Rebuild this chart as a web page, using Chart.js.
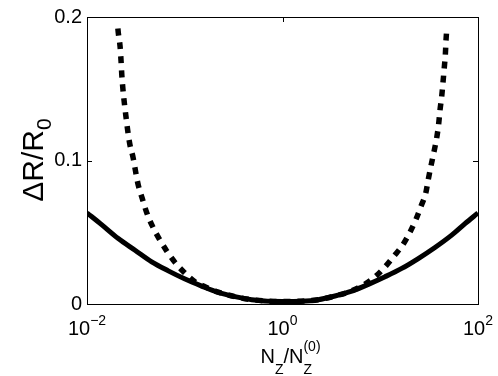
<!DOCTYPE html>
<html>
<head>
<meta charset="utf-8">
<script src="https://cdn.jsdelivr.net/npm/chart.js@4/dist/chart.umd.min.js"></script>
<style>
  html, body { margin: 0; padding: 0; background: #fff; }
  canvas { display: block; }
</style>
</head>
<body>
<canvas id="c" width="498" height="376"></canvas>
<script>
// ---- data ----
const solidN = [0.01, 0.0141, 0.0209, 0.031, 0.0459, 0.0679, 0.1007, 0.149, 0.22, 0.327, 0.484, 1.0, 1.57, 2.32, 3.44, 5.11, 7.55, 11.2, 16.6, 24.5, 36.3, 53.8, 73.6, 100];
const solidR = [0.0635, 0.0553, 0.0456, 0.0375, 0.0294, 0.0231, 0.0174, 0.0125, 0.0081, 0.0051, 0.003, 0.0017, 0.0019, 0.003, 0.0056, 0.009, 0.0137, 0.019, 0.0248, 0.0317, 0.0394, 0.048, 0.056, 0.0635];

const dashN = [0.0207, 0.0209, 0.0218, 0.0223, 0.0227, 0.0233, 0.0241, 0.0251, 0.0261, 0.0275, 0.0296, 0.0315, 0.0335, 0.0368, 0.0408, 0.0466, 0.0546, 0.0653, 0.0794, 0.0989, 0.127, 0.161, 0.22, 0.327, 0.484, 1.0, 2.32, 3.44, 5.11, 6.98, 8.83, 11.2, 13.9, 17.0, 20.2, 23.2, 26.1, 29.2, 31.0, 33.1, 35.5, 37.8, 39.6, 40.9, 42.6, 43.9, 45.2, 46.4, 47.1, 47.9];
const dashR = [0.192, 0.189, 0.1794, 0.1694, 0.1597, 0.1498, 0.1401, 0.130, 0.1208, 0.1109, 0.1021, 0.0919, 0.0826, 0.0734, 0.0637, 0.0544, 0.0456, 0.0370, 0.0290, 0.0220, 0.0155, 0.0120, 0.0083, 0.0051, 0.003, 0.0017, 0.003, 0.0056, 0.0092, 0.0139, 0.0189, 0.0259, 0.0336, 0.0412, 0.0502, 0.0590, 0.0681, 0.0773, 0.0868, 0.0965, 0.1063, 0.1158, 0.1255, 0.1354, 0.1451, 0.1549, 0.1648, 0.1745, 0.184, 0.1915];

const xTickValues = [0.01, 1, 100];
const xTickExponents = ['\u22122', '0', '2'];
const yTickValues = [0, 0.1, 0.2];
const yTickLabels = ['0', '0.1', '0.2'];
const xTitleParts = { main1: 'N', sub1: 'Z', slash: '/', main2: 'N', sub2: 'Z', sup2: '(0)' };
const yTitleParts = { main: '\u0394R/R', sub: '0' };

const FONT = '"Liberation Sans", Arial, Helvetica, sans-serif';

function toXY(xs, ys) { return xs.map((x, i) => ({ x: x, y: ys[i] })); }

const decorPlugin = {
  id: 'decor',
  afterDraw(chart) {
    const ctx = chart.ctx;
    const a = chart.chartArea;
    const xs = chart.scales.x, ys = chart.scales.y;
    ctx.save();
    // frame top & right
    ctx.strokeStyle = '#000';
    ctx.lineWidth = 1;
    ctx.beginPath();
    ctx.moveTo(a.left, a.top + 0.5); ctx.lineTo(a.right + 0.5, a.top + 0.5);
    ctx.moveTo(a.right + 0.5, a.top); ctx.lineTo(a.right + 0.5, a.bottom);
    ctx.stroke();
    // inward ticks
    ctx.beginPath();
    yTickValues.forEach(v => {
      const py = Math.round(ys.getPixelForValue(v)) + 0.5;
      ctx.moveTo(a.left, py); ctx.lineTo(a.left + 5, py);
      ctx.moveTo(a.right, py); ctx.lineTo(a.right - 5, py);
    });
    xTickValues.forEach(v => {
      const px = Math.round(xs.getPixelForValue(v)) + 0.5;
      ctx.moveTo(px, a.bottom); ctx.lineTo(px, a.bottom - 5);
      ctx.moveTo(px, a.top); ctx.lineTo(px, a.top + 5);
    });
    ctx.stroke();

    ctx.fillStyle = '#000';
    ctx.textBaseline = 'alphabetic';
    ctx.textAlign = 'left';
    // x tick labels 10^k
    xTickValues.forEach((v, i) => {
      const px = xs.getPixelForValue(v);
      ctx.font = '20px ' + FONT;
      const wMain = ctx.measureText('10').width;
      ctx.font = '14px ' + FONT;
      const wExp = ctx.measureText(xTickExponents[i]).width;
      const x0 = px - (wMain + wExp) / 2;
      ctx.font = '20px ' + FONT;
      ctx.fillText('10', x0, 335);
      ctx.font = '14px ' + FONT;
      ctx.fillText(xTickExponents[i], x0 + wMain, 325);
    });

    // x title: N_Z / N_Z^(0)
    ctx.font = '20px ' + FONT;
    const wN = ctx.measureText(xTitleParts.main1).width;
    const wSl = ctx.measureText(xTitleParts.slash).width;
    ctx.font = '14px ' + FONT;
    const wZ = ctx.measureText(xTitleParts.sub1).width;
    const wSup = ctx.measureText(xTitleParts.sup2).width;
    const total = wN + wZ + wSl + wN + Math.max(wZ, wSup);
    let cx = 290.5 - total / 2;
    const base = 363;
    ctx.font = '20px ' + FONT; ctx.fillText(xTitleParts.main1, cx, base); cx += wN;
    ctx.font = '14px ' + FONT; ctx.fillText(xTitleParts.sub1, cx, base + 11); cx += wZ;
    ctx.font = '20px ' + FONT; ctx.fillText(xTitleParts.slash, cx, base); cx += wSl;
    ctx.font = '20px ' + FONT; ctx.fillText(xTitleParts.main2, cx, base); cx += wN;
    ctx.font = '14px ' + FONT; ctx.fillText(xTitleParts.sub2, cx, base + 11);
    ctx.fillText(xTitleParts.sup2, cx, base - 12);

    // y title: ΔR/R_0 rotated
    ctx.save();
    ctx.translate(43, 160);
    ctx.rotate(-Math.PI / 2);
    ctx.font = '30px ' + FONT;
    const wMainY = ctx.measureText(yTitleParts.main).width;
    ctx.font = '21px ' + FONT;
    const wSubY = ctx.measureText(yTitleParts.sub).width;
    let ty = -(wMainY + wSubY) / 2;
    ctx.font = '30px ' + FONT;
    ctx.fillText(yTitleParts.main, ty, 0);
    ctx.font = '21px ' + FONT;
    ctx.fillText(yTitleParts.sub, ty + wMainY, 8);
    ctx.restore();

    ctx.restore();
  }
};

new Chart(document.getElementById('c'), {
  type: 'line',
  data: {
    datasets: [
      {
        label: 'dashed',
        data: toXY(dashN, dashR),
        borderColor: '#000',
        borderWidth: 5.5,
        borderDash: [7, 7],
        borderCapStyle: 'butt',
        pointRadius: 0,
        fill: false,
        cubicInterpolationMode: 'monotone',
        order: 1
      },
      {
        label: 'solid',
        data: toXY(solidN, solidR),
        borderColor: '#000',
        borderWidth: 5,
        pointRadius: 0,
        fill: false,
        cubicInterpolationMode: 'monotone',
        order: 2
      }
    ]
  },
  options: {
    responsive: false,
    animation: false,
    devicePixelRatio: 1,
    layout: { padding: { left: 0, top: 16, right: 20, bottom: 0 } },
    plugins: { legend: { display: false }, tooltip: { enabled: false } },
    scales: {
      x: {
        type: 'logarithmic',
        min: 0.01,
        max: 100,
        afterBuildTicks: s => { s.ticks = xTickValues.map(v => ({ value: v })); },
        afterFit: s => { s.height = 72; },
        ticks: { display: false },
        grid: { display: false, drawTicks: false },
        border: { display: true, color: '#000', width: 1 }
      },
      y: {
        type: 'linear',
        min: 0,
        max: 0.2,
        afterBuildTicks: s => { s.ticks = yTickValues.map(v => ({ value: v })); },
        afterFit: s => { s.width = 87; },
        ticks: {
          color: '#000',
          padding: 5,
          font: { family: FONT, size: 20 },
          callback: (v) => { const i = yTickValues.indexOf(v); return i >= 0 ? yTickLabels[i] : ''; }
        },
        grid: { display: false, drawTicks: false },
        border: { display: true, color: '#000', width: 1 }
      }
    }
  },
  plugins: [decorPlugin]
});
</script>
</body>
</html>
